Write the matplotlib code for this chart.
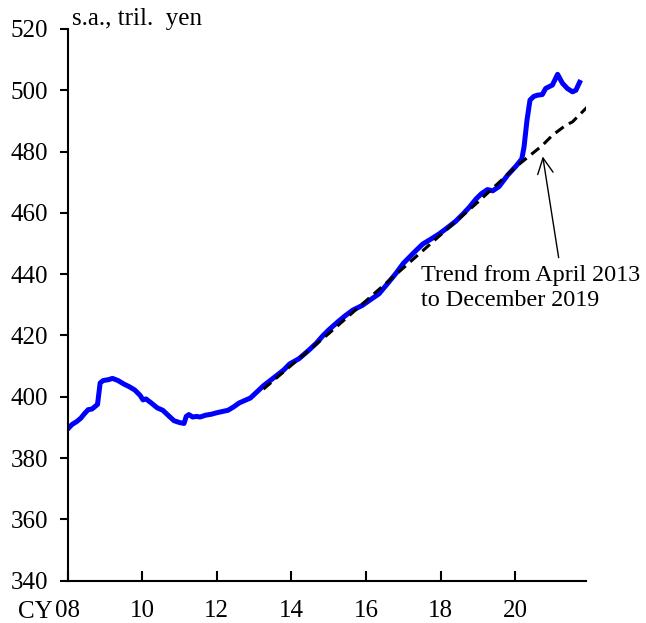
import numpy as np
import matplotlib
matplotlib.use("Agg")
import matplotlib.pyplot as plt

# =========================
# Data
# =========================

years = [
    2008.00, 2008.12, 2008.24, 2008.35, 2008.45, 2008.55, 2008.65, 2008.75, 2008.80,
    2008.87, 2008.95, 2009.10, 2009.20, 2009.35, 2009.50, 2009.65, 2009.80, 2009.94,
    2010.02, 2010.10, 2010.25, 2010.40, 2010.55, 2010.70, 2010.85, 2011.00, 2011.12,
    2011.18, 2011.25, 2011.35, 2011.45, 2011.55, 2011.70, 2011.85, 2012.00, 2012.15,
    2012.30, 2012.45, 2012.60, 2012.75, 2012.90, 2013.05, 2013.25, 2013.40, 2013.60,
    2013.80, 2013.95, 2014.20, 2014.45, 2014.67, 2014.85, 2015.00, 2015.25, 2015.45,
    2015.65, 2015.90, 2016.10, 2016.35, 2016.55, 2016.80, 2017.00, 2017.17, 2017.35,
    2017.52, 2017.75, 2017.97, 2018.20, 2018.41, 2018.60, 2018.77, 2018.95, 2019.10,
    2019.26, 2019.40, 2019.57, 2019.80, 2020.02, 2020.18, 2020.24, 2020.32, 2020.40,
    2020.50, 2020.60, 2020.73, 2020.82, 2021.00, 2021.14, 2021.27, 2021.40, 2021.54,
    2021.63, 2021.73,
]

values = [
    389.5, 391.0, 391.9, 393.0, 394.5, 395.8, 396.0, 397.0, 397.5,
    404.5, 405.3, 405.6, 406.0, 405.3, 404.2, 403.3, 402.2, 400.5,
    399.0, 399.3, 397.9, 396.4, 395.6, 393.9, 392.2, 391.6, 391.3,
    393.6, 394.2, 393.4, 393.6, 393.4, 394.0, 394.3, 394.8, 395.2,
    395.6, 396.7, 398.0, 398.8, 399.6, 401.3, 403.6, 405.0, 406.9,
    408.8, 410.7, 412.4, 415.0, 417.5, 420.0, 421.8, 424.5, 426.5,
    428.3, 429.8, 431.5, 433.6, 436.5, 440.2, 443.5, 445.6, 447.8,
    449.8, 451.5, 453.2, 455.3, 457.3, 459.6, 461.8, 464.5, 466.3,
    467.6, 467.2, 468.6, 472.3, 475.2, 477.6, 481.5, 490.3, 496.8,
    498.0, 498.4, 498.6, 500.6, 501.7, 505.2, 502.3, 500.6, 499.5,
    500.0, 502.6,
]

# trend from April 2013 to December 2019, extended
trend_years = [2013.25, 2014.0, 2015.0, 2016.0, 2017.0, 2018.0, 2019.0, 2020.0,
               2020.73, 2021.0, 2021.36, 2021.54, 2021.94]
trend_values = [402.5, 410.3, 420.6, 431.3, 442.0, 452.8, 463.5, 474.8,
                482.0, 485.3, 488.6, 489.7, 494.6]

x_ticks = [2008, 2010, 2012, 2014, 2016, 2018, 2020]
x_labels = ["08", "10", "12", "14", "16", "18", "20"]
y_ticks = [340, 360, 380, 400, 420, 440, 460, 480, 500, 520]

# =========================
# Plot
# =========================

plt.rcParams["font.family"] = ["Liberation Serif", "DejaVu Serif"]
plt.rcParams["font.size"] = 18

fig = plt.figure(figsize=(6.46, 6.23), dpi=100)
ax = fig.add_axes([0.1048, 0.0679, 0.8022, 0.8856])

ax.plot(years, values, color="#0000ff", lw=3.6, solid_joinstyle="round", zorder=2)
ax.plot(trend_years, trend_values, color="black", lw=2.2, ls=(0, (3.3, 2.0)), zorder=3)

ax.set_xlim(2008, 2021.9)
ax.set_ylim(340, 520)
ax.set_xticks(x_ticks)
ax.set_xticklabels(x_labels)
ax.set_yticks(y_ticks)

for side in ["top", "right"]:
    ax.spines[side].set_visible(False)
for side in ["left", "bottom"]:
    ax.spines[side].set_linewidth(1.5)

ax.tick_params(axis="x", direction="in", length=7, width=1.5, pad=14)
ax.tick_params(axis="y", direction="out", length=6, width=1.5, pad=8)

ax.text(-0.063, -0.057, "CY", transform=ax.transAxes, ha="center", va="center")
fig.text(0.111, 0.97, "s.a., tril.  yen", ha="left", va="center")

ax.annotate("", xy=(2020.73, 479.3), xytext=(2021.18, 444.5),
            arrowprops=dict(arrowstyle="->", lw=1.0, color="black", mutation_scale=28))
ax.text(2017.48, 443.0, "Trend from April 2013\nto December 2019",
        ha="left", va="top", linespacing=1.25, fontsize=17.4)

fig.savefig("out.png", dpi=100)
